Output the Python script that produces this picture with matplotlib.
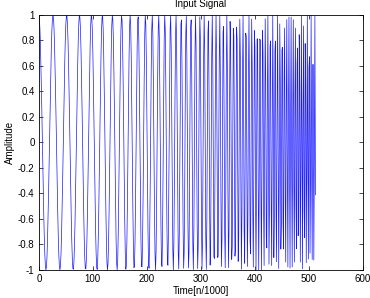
import numpy as np
import matplotlib.pyplot as plt

# chirp: peak spacing ~26 at the start, ~20 at n=100,
# ~13 at n=200 and only a few samples near the end (peaks drop to ~0.65)
n_end = 512          # last sample index
n_step = 1           # sample spacing in n
f_start = 0.038      # cycles per n at n = 0
f_stop = 0.295       # cycles per n at n = 512 (frequency rises with n**2)
x_ticks = [0, 100, 200, 300, 400, 500, 600]
y_ticks = [-1, -0.8, -0.6, -0.4, -0.2, 0, 0.2, 0.4, 0.6, 0.8, 1]
y_labels = ['-1', '-0.8', '-0.6', '-0.4', '-0.2', '0', '0.2', '0.4', '0.6', '0.8', '1']

plt.rcParams['font.family'] = ['Liberation Sans', 'DejaVu Sans']

n = np.arange(0, n_end + 1, n_step)
c = (f_stop - f_start) / n_end ** 2
x = np.cos(2 * np.pi * (f_start * n + c * n ** 3 / 3))

fig = plt.figure(figsize=(3.7, 2.98), dpi=100)
ax = fig.add_axes([0.105, 0.094, 0.876, 0.856])
ax.plot(n, x, color='#1a1aff', lw=0.5)
ax.set_xlim(0, 600)
ax.set_ylim(-1, 1)
ax.set_xticks(x_ticks)
ax.set_yticks(y_ticks)
ax.set_yticklabels(y_labels)
ax.tick_params(direction='in', length=3, width=0.5, labelsize=7, top=True, right=True,
               labeltop=False, labelright=False, pad=3)
for s in ax.spines.values():
    s.set_linewidth(0.6)
ax.set_title('Input Signal', fontsize=7, pad=6)
ax.set_xlabel('Time[n/1000]', fontsize=7, labelpad=1)
ax.set_ylabel('Amplitude', fontsize=7, labelpad=2)

fig.savefig('out.png', dpi=100)
